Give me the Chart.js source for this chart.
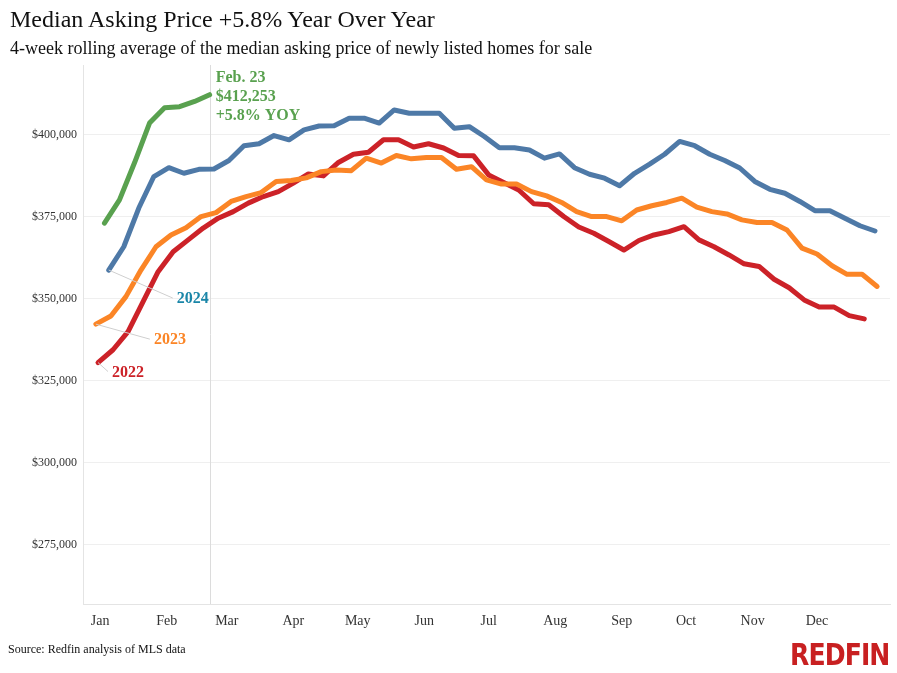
<!DOCTYPE html>
<html>
<head>
<meta charset="utf-8">
<script src="https://cdn.jsdelivr.net/npm/chart.js@4.4.1/dist/chart.umd.min.js"></script>
<style>
  body { margin: 0; background: #fff; font-family: "Liberation Serif", "Times New Roman", serif; }
  #wrap { position: relative; width: 897px; height: 673px; overflow: hidden; }
  #chartBox { position: absolute; left: 0; top: 0; width: 897px; height: 673px; }
  .title { position: absolute; left: 10px; top: 6px; font-size: 24px; color: #111; white-space: nowrap; }
  .subtitle { position: absolute; left: 10px; top: 38px; font-size: 18px; color: #111; white-space: nowrap; }
  .source { position: absolute; left: 8px; top: 642px; font-size: 12px; color: #111; white-space: nowrap; }
  .logo { position: absolute; left: 790px; top: 636px; font-family: "DejaVu Sans Condensed", "DejaVu Sans", sans-serif;
          font-weight: bold; font-size: 31px; color: #c82021; white-space: nowrap; letter-spacing: -1px;
          transform: scaleX(0.9); transform-origin: left top; }
</style>
</head>
<body>
<div id="wrap">
  <div id="chartBox"><canvas id="chart1"></canvas></div>
  <div class="title">Median Asking Price +5.8% Year Over Year</div>
  <div class="subtitle">4-week rolling average of the median asking price of newly listed homes for sale</div>
  <div class="source">Source: Redfin analysis of MLS data</div>
  <div class="logo">REDFIN</div>
</div>
<script>
// x is day of year (Jan 1 = 0), one point per week
var monthLabels = ["Jan","Feb","Mar","Apr","May","Jun","Jul","Aug","Sep","Oct","Nov","Dec"];
var monthStartDays = [0,31,59,90,120,151,181,212,243,273,304,334];
var yTicks = [275000,300000,325000,350000,375000,400000];
var labelShiftDays = 2;

var seriesNames = ["2025","2024","2023","2022"];
var firstWeekDay = [4, 6, 0, 1];

var price2025 = [373100,380200,391500,403600,408300,408600,410200,412253];

var price2024 = [358800,365900,377700,387300,390000,388300,389500,389600,392200,396700,
  397300,399800,398500,401500,402700,402800,405100,405100,403600,407600,
  406600,406600,406600,402000,402500,399500,396100,396100,395400,392900,
  394200,390000,388000,386800,384500,388300,391100,394100,398000,396700,
  394100,392200,389900,385800,383400,382200,379700,376900,376900,374600,
  372300,370700];

var price2023 = [342300,344800,350700,358800,365900,369500,371700,375100,376300,379700,
  381200,382400,385800,386100,386900,388800,389300,389100,392900,391400,
  393700,392700,393100,393100,389500,390300,386300,385000,385000,382700,
  381400,379400,376600,375100,375100,373800,377100,378400,379400,380700,
  378000,376600,375900,374100,373300,373300,371000,365500,363700,360100,
  357500,357500,353800];

var price2022 = [330600,334500,340000,349200,358300,364400,368000,371600,374600,376600,
  379200,381200,382700,385300,388100,387500,391600,394100,394700,398500,
  398500,396300,397300,396000,393700,393600,387800,385500,383200,379000,
  378700,375100,371900,370000,367500,364900,367800,369500,370500,372000,
  368000,365900,363400,360700,359900,356000,353400,349700,347500,347500,
  344900,343900];

var lineColors = ["#59a14f", "#4e79a7", "#fb8526", "#cc2228"];
var labelColors = ["#59a14f", "#1a86a8", "#fb8526", "#cc2228"];

function toPoints(values, startDay) {
  return values.map(function(v, i){ return { x: startDay + i * 7, y: v }; });
}

var allSeries = [price2025, price2024, price2023, price2022];
var datasets = allSeries.map(function(values, k){
  return {
    label: seriesNames[k],
    data: toPoints(values, firstWeekDay[k]),
    borderColor: lineColors[k],
    backgroundColor: lineColors[k],
    borderWidth: 5,
    borderCapStyle: "round",
    borderJoinStyle: "round",
    pointRadius: 0,
    tension: 0
  };
});

// labels for the older years, joined to the first point with a thin grey line
var labelOffsets = [null, [64, 28], [54, 15], [10, 9]];

var annotations = {
  id: "annotations",
  beforeDatasetsDraw: function(chart) {
    // reference line at the latest week
    var ctx = chart.ctx;
    var area = chart.chartArea;
    var last = chart.data.datasets[0].data[price2025.length - 1];
    var lx = Math.round(chart.scales.x.getPixelForValue(last.x)) + 0.5;
    ctx.save();
    ctx.strokeStyle = "#dcdcdc";
    ctx.lineWidth = 1;
    ctx.beginPath();
    ctx.moveTo(lx, area.top);
    ctx.lineTo(lx, area.bottom);
    ctx.stroke();
    ctx.restore();
  },
  afterDatasetsDraw: function(chart) {
    var ctx = chart.ctx;
    var xs = chart.scales.x, ys = chart.scales.y;
    ctx.save();

    for (var k = 1; k < 4; k++) {
      var p = chart.data.datasets[k].data[0];
      var px = xs.getPixelForValue(p.x), py = ys.getPixelForValue(p.y);
      var off = labelOffsets[k];
      ctx.strokeStyle = "#cfcfcf";
      ctx.lineWidth = 1;
      ctx.beginPath();
      ctx.moveTo(px, py);
      ctx.lineTo(px + off[0], py + off[1]);
      ctx.stroke();
      ctx.fillStyle = labelColors[k];
      ctx.font = "bold 16px 'Liberation Serif', serif";
      ctx.textBaseline = "middle";
      ctx.textAlign = "left";
      ctx.fillText(seriesNames[k], px + off[0] + 4, py + off[1] + 1);
    }

    var last = chart.data.datasets[0].data[price2025.length - 1];
    var lx = xs.getPixelForValue(last.x);
    var ly = ys.getPixelForValue(last.y);
    ctx.fillStyle = labelColors[0];
    ctx.font = "bold 16px 'Liberation Serif', serif";
    ctx.textBaseline = "alphabetic";
    ctx.fillText("Feb. 23", lx + 6, ly - 13);
    ctx.fillText("$" + last.y.toLocaleString("en-US"), lx + 6, ly + 6);
    ctx.fillText("+5.8% YOY", lx + 6, ly + 25);
    ctx.restore();
  }
};

var config1 = {
  type: "line",
  data: { datasets: datasets },
  options: {
    responsive: true,
    maintainAspectRatio: false,
    animation: false,
    layout: { padding: { top: 65, right: 7, bottom: 0, left: 0 } },
    plugins: {
      legend: { display: false },
      tooltip: { enabled: false }
    },
    scales: {
      x: {
        type: "linear",
        min: -6,
        max: 370,
        afterFit: function(s) { s.height = 69; },
        afterBuildTicks: function(s) {
          s.ticks = monthStartDays.map(function(d){ return { value: d + labelShiftDays }; });
        },
        ticks: {
          padding: 9,
          autoSkip: false,
          maxRotation: 0,
          color: "#333",
          font: { family: "'Liberation Serif', serif", size: 14 },
          callback: function(v) {
            var i = monthStartDays.indexOf(v - labelShiftDays);
            return i >= 0 ? monthLabels[i] : "";
          }
        },
        grid: { display: false, drawTicks: false },
        border: { display: true, color: "#e4e4e4" }
      },
      y: {
        min: 257000,
        max: 421300,
        afterFit: function(s) { s.width = 83; },
        afterBuildTicks: function(s) {
          s.ticks = yTicks.map(function(v){ return { value: v }; });
        },
        ticks: {
          padding: 6,
          color: "#333",
          font: { family: "'Liberation Serif', serif", size: 12 },
          callback: function(v) { return "$" + v.toLocaleString("en-US"); }
        },
        grid: { color: "#efefef", drawTicks: false },
        border: { display: true, color: "#e4e4e4" }
      }
    }
  },
  plugins: [annotations]
};

var ctx1 = document.getElementById("chart1").getContext("2d");
window.myLine = new Chart(ctx1, config1);
</script>
</body>
</html>
